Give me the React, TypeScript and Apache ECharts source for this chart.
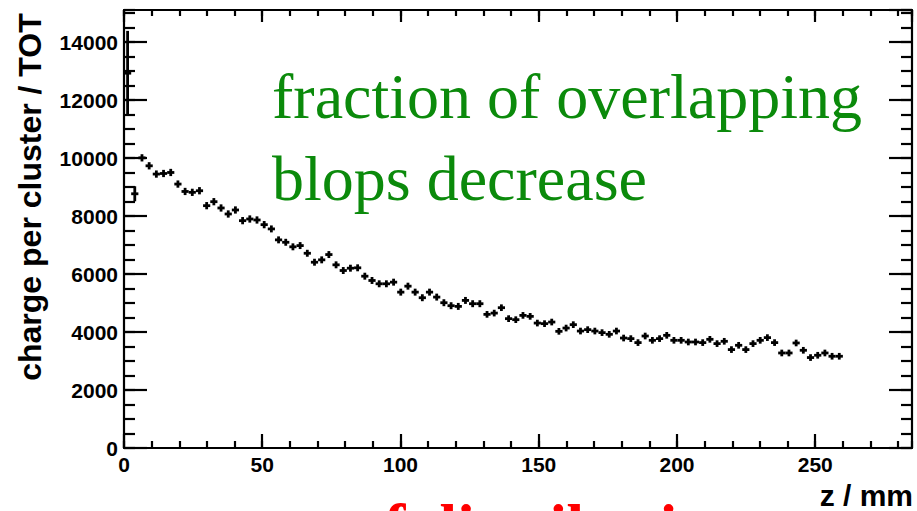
import React, { useEffect, useRef } from "react";
import * as echarts from "echarts";

// histogram bin centres (z / mm), bin width 2.6 mm
const zCenters = [
  1.3, 3.9, 6.5, 9.1, 11.7, 14.3, 16.9, 19.5, 22.1, 24.7,
  27.3, 29.9, 32.5, 35.1, 37.7, 40.3, 42.9, 45.5, 48.1, 50.7,
  53.3, 55.9, 58.5, 61.1, 63.7, 66.3, 68.9, 71.5, 74.1, 76.7,
  79.3, 81.9, 84.5, 87.1, 89.7, 92.3, 94.9, 97.5, 100.1, 102.7,
  105.3, 107.9, 110.5, 113.1, 115.7, 118.3, 120.9, 123.5, 126.1, 128.7,
  131.3, 133.9, 136.5, 139.1, 141.7, 144.3, 146.9, 149.5, 152.1, 154.7,
  157.3, 159.9, 162.5, 165.1, 167.7, 170.3, 172.9, 175.5, 178.1, 180.7,
  183.3, 185.9, 188.5, 191.1, 193.7, 196.3, 198.9, 201.5, 204.1, 206.7,
  209.3, 211.9, 214.5, 217.1, 219.7, 222.3, 224.9, 227.5, 230.1, 232.7,
  235.3, 237.9, 240.5, 243.1, 245.7, 248.3, 250.9, 253.5, 256.1, 258.7,
];
const BIN_HALF = 1.3;

// charge per cluster / TOT
const charge = [
  12930, 8770, 10010, 9735, 9450, 9470, 9505, 9105, 8850, 8820,
  8875, 8360, 8497, 8280, 8073, 8211, 7843, 7900, 7866, 7705,
  7558, 7180, 7097, 6940, 6983, 6718, 6409, 6491, 6673, 6319,
  6123, 6203, 6216, 5927, 5779, 5665, 5665, 5721, 5377, 5583,
  5377, 5184, 5377, 5206, 5012, 4909, 4885, 5091, 4978, 4978,
  4610, 4654, 4840, 4462, 4427, 4575, 4541, 4310, 4290, 4345,
  4025, 4138, 4255, 4035, 4083, 4035, 3980, 3922, 4035, 3794,
  3773, 3636, 3863, 3715, 3773, 3887, 3715, 3715, 3657, 3657,
  3636, 3749, 3601, 3681, 3395, 3543, 3395, 3601, 3715, 3808,
  3636, 3278, 3278, 3623, 3371, 3120, 3199, 3278, 3165, 3165,
];

// statistical errors
const chargeErr = [
  1460, 260, 125, 125, 125, 125, 125, 125, 125, 125,
  125, 125, 125, 125, 125, 125, 125, 125, 125, 125,
  120, 120, 120, 120, 120, 120, 120, 120, 120, 120,
  120, 120, 120, 120, 120, 120, 120, 120, 120, 120,
  120, 120, 120, 120, 120, 120, 120, 120, 120, 120,
  115, 115, 115, 115, 115, 115, 115, 115, 115, 115,
  115, 115, 115, 115, 115, 115, 115, 115, 115, 115,
  115, 115, 115, 115, 115, 115, 115, 115, 115, 115,
  115, 115, 115, 115, 115, 115, 115, 115, 115, 115,
  115, 115, 115, 115, 115, 115, 115, 115, 115, 115,
];

const X_MAX = 285;
const Y_MAX = 15110;
const xMajor = 50;
const xMinor = 10;
const yMajor = 2000;
const yMinor = 500;

const SANS = "'Liberation Sans', Arial, Helvetica, sans-serif";
const SERIF = "'Liberation Serif', 'Times New Roman', serif";

export default function App() {
  const ref = useRef<HTMLDivElement>(null);

  useEffect(() => {
    if (!ref.current) return;
    const chart = echarts.init(ref.current, undefined, { renderer: "svg" });

    const data = zCenters.map((z, i) => [z, charge[i], chargeErr[i]]);

    const lineStyle = { color: "#000", width: 2.2 };
    const baseX = {
      type: "value" as const,
      min: 0,
      max: X_MAX,
      splitLine: { show: false },
      axisLine: { show: false, onZero: false, lineStyle },
      axisLabel: { show: false },
    };
    const baseY = {
      type: "value" as const,
      min: 0,
      max: Y_MAX,
      splitLine: { show: false },
      axisLine: { show: false, onZero: false, lineStyle },
      axisLabel: { show: false },
    };

    chart.setOption({
      animation: false,
      backgroundColor: "#ffffff",
      grid: { left: 124, right: 5, top: 10, bottom: 63, containLabel: false },
      xAxis: [
        {
          ...baseX,
          position: "bottom",
          interval: xMajor,
          axisLine: { show: true, onZero: false, lineStyle },
          axisTick: { show: true, inside: true, length: 14, lineStyle },
          axisLabel: {
            show: true,
            margin: 6,
            showMaxLabel: false,
            color: "#000",
            fontFamily: SANS,
            fontWeight: "bold",
            fontSize: 21,
            formatter: (v: number) => (v % xMajor === 0 ? String(v) : ""),
          },
        },
        {
          ...baseX,
          position: "bottom",
          interval: xMinor,
          axisTick: { show: true, inside: true, length: 7, lineStyle },
        },
        {
          ...baseX,
          position: "top",
          interval: xMajor,
          axisLine: { show: true, onZero: false, lineStyle },
          axisTick: { show: true, inside: true, length: 12, lineStyle },
        },
        {
          ...baseX,
          position: "top",
          interval: xMinor,
          axisTick: { show: true, inside: true, length: 6, lineStyle },
        },
      ],
      yAxis: [
        {
          ...baseY,
          position: "left",
          interval: yMajor,
          axisLine: { show: true, onZero: false, lineStyle },
          axisTick: { show: true, inside: true, length: 23, lineStyle },
          axisLabel: {
            show: true,
            margin: 6,
            showMaxLabel: false,
            color: "#000",
            fontFamily: SANS,
            fontWeight: "bold",
            fontSize: 21,
            formatter: (v: number) => (v % yMajor === 0 ? String(v) : ""),
          },
        },
        {
          ...baseY,
          position: "left",
          interval: yMinor,
          axisTick: { show: true, inside: true, length: 11, lineStyle },
        },
        {
          ...baseY,
          position: "right",
          interval: yMajor,
          axisLine: { show: true, onZero: false, lineStyle },
          axisTick: { show: true, inside: true, length: 23, lineStyle },
        },
        {
          ...baseY,
          position: "right",
          interval: yMinor,
          axisTick: { show: true, inside: true, length: 11, lineStyle },
        },
      ],
      series: [
        {
          type: "custom",
          xAxisIndex: 0,
          yAxisIndex: 0,
          data,
          encode: { x: 0, y: 1 },
          renderItem: (_params: any, api: any) => {
            const x = api.value(0);
            const y = api.value(1);
            const e = api.value(2);
            const l = api.coord([x - BIN_HALF, y]);
            const r = api.coord([x + BIN_HALF, y]);
            const t = api.coord([x, y + e]);
            const b = api.coord([x, y - e]);
            const st = { stroke: "#000", lineWidth: 2.8 };
            return {
              type: "group",
              children: [
                { type: "line", shape: { x1: l[0], y1: l[1], x2: r[0], y2: r[1] }, style: st },
                { type: "line", shape: { x1: t[0], y1: t[1], x2: b[0], y2: b[1] }, style: st },
              ],
            };
          },
        },
      ],
      graphic: [
        {
          type: "text",
          x: 30,
          y: 197,
          rotation: Math.PI / 2,
          style: {
            text: "charge per cluster / TOT",
            fill: "#000",
            font: `bold 32px ${SANS}`,
            align: "center",
            verticalAlign: "middle",
          },
        },
        {
          type: "text",
          x: 913,
          y: 495,
          style: {
            text: "z / mm",
            fill: "#000",
            font: `bold 30px ${SANS}`,
            align: "right",
            verticalAlign: "middle",
          },
        },
        {
          type: "text",
          x: 272,
          y: 96,
          style: {
            text: "fraction of overlapping",
            fill: "#0b8a0b",
            font: `64px ${SERIF}`,
            align: "left",
            verticalAlign: "middle",
          },
        },
        {
          type: "text",
          x: 272,
          y: 178,
          style: {
            text: "blops decrease",
            fill: "#0b8a0b",
            font: `64px ${SERIF}`,
            align: "left",
            verticalAlign: "middle",
          },
        },
        {
          type: "text",
          x: 384,
          y: 526,
          style: {
            text: "f distribution",
            fill: "#ff0000",
            font: `bold 64px ${SERIF}`,
            align: "left",
            verticalAlign: "middle",
          },
        },
      ],
    });

    return () => chart.dispose();
  }, []);

  return (
    <div
      ref={ref}
      style={{ position: "fixed", left: 0, top: 0, width: 917, height: 511, overflow: "hidden" }}
    />
  );
}
